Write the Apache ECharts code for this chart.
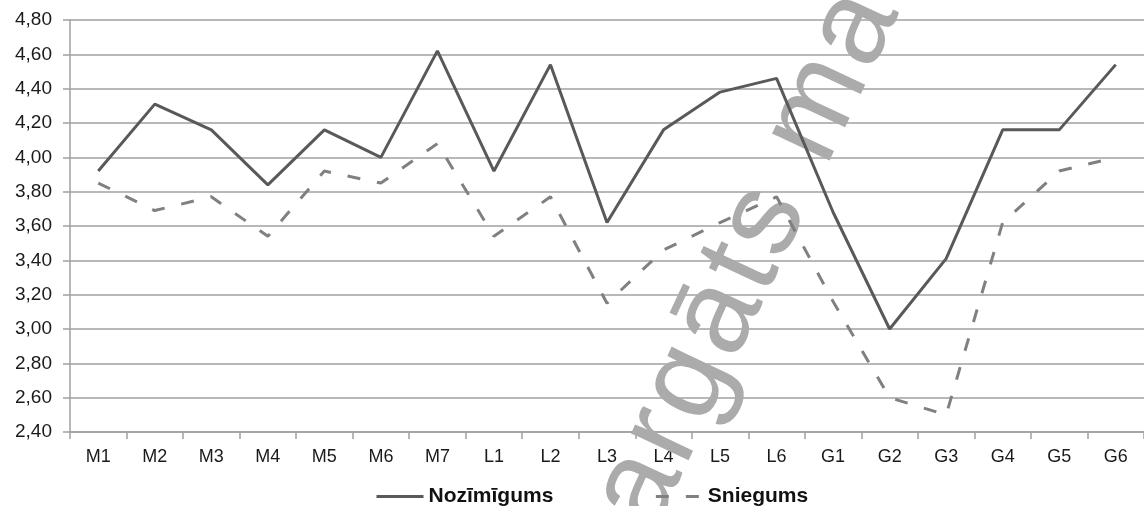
<!DOCTYPE html>
<html>
<head>
<meta charset="utf-8">
<script src="https://cdn.jsdelivr.net/npm/echarts@6/dist/echarts.min.js"></script>
<style>
  html, body { margin: 0; padding: 0; background: #ffffff; }
  #chart { width: 1144px; height: 506px; }
</style>
</head>
<body>
<div id="chart"></div>
<script>
// Category labels along the x axis
const categories = ['M1', 'M2', 'M3', 'M4', 'M5', 'M6', 'M7',
                    'L1', 'L2', 'L3', 'L4', 'L5', 'L6',
                    'G1', 'G2', 'G3', 'G4', 'G5', 'G6'];

// Series values
const nozimigums = [3.92, 4.31, 4.16, 3.84, 4.16, 4.00, 4.62,
                    3.92, 4.54, 3.62, 4.16, 4.38, 4.46,
                    3.68, 3.00, 3.41, 4.16, 4.16, 4.54];
const sniegums   = [3.85, 3.69, 3.77, 3.54, 3.92, 3.85, 4.08,
                    3.54, 3.77, 3.15, 3.46, 3.62, 3.77,
                    3.16, 2.60, 2.50, 3.62, 3.92, 4.00];

// Series names
const seriesNames = ['Nozīmīgums', 'Sniegums'];

// Value axis range
const yMin = 2.4, yMax = 4.8, yStep = 0.2;

// Watermark text
const watermark = 'argāts ma';

const chart = echarts.init(document.getElementById('chart'), null, { renderer: 'canvas' });

const gridColor = '#a0a0a0';
const labelFont = '"Liberation Sans", Arial, sans-serif';

// Watermark: letters laid out one by one along a slanted baseline (with a little tracking)
const wmSize = 120, wmTrack = 5.2, wmAngle = 64.8;
const measureCtx = document.createElement('canvas').getContext('2d');
measureCtx.font = wmSize + 'px "Liberation Sans", Arial, sans-serif';
const wmChars = Array.from(watermark);
const wmCenters = [];
let wmAcc = 0;
wmChars.forEach(ch => {
  const w = measureCtx.measureText(ch).width;
  wmCenters.push(wmAcc + w / 2);
  wmAcc += w + wmTrack;
});
const wmMid = (wmCenters[0] + wmCenters[wmCenters.length - 1]) / 2;
const wmLetters = wmChars.map((ch, i) => ({
  type: 'text',
  x: wmCenters[i] - wmMid,
  y: -8,
  z: 1,
  silent: true,
  style: {
    text: ch,
    fontFamily: labelFont,
    fontSize: wmSize,
    fill: '#ababab',
    align: 'center',
    verticalAlign: 'middle',
    textAlign: 'center',
    textVerticalAlign: 'middle'
  }
}));

chart.setOption({
  animation: false,
  backgroundColor: '#ffffff',
  grid: { left: 70, right: -12, top: 20, bottom: 74, containLabel: false },
  legend: {
    data: seriesNames,
    left: 370,
    top: 481,
    padding: 5,
    itemWidth: 47,
    itemHeight: 14,
    itemGap: 101,
    itemStyle: { opacity: 0 },
    lineStyle: { width: 3 },
    textStyle: { fontFamily: labelFont, fontSize: 21, fontWeight: 'bold', color: '#111' }
  },
  xAxis: {
    type: 'category',
    data: categories,
    boundaryGap: true,
    axisLine: { show: true, lineStyle: { color: gridColor, width: 1.5 } },
    axisTick: { show: true, length: 7, lineStyle: { color: gridColor, width: 1.5 } },
    axisLabel: { margin: 16, fontFamily: labelFont, fontSize: 18, color: '#1a1a1a', interval: 0 },
    splitLine: { show: false }
  },
  yAxis: {
    type: 'value',
    min: yMin,
    max: yMax,
    interval: yStep,
    axisLine: { show: true, lineStyle: { color: gridColor, width: 1.5 } },
    axisTick: { show: true, length: 7, lineStyle: { color: gridColor, width: 1.5 } },
    axisLabel: {
      margin: 18,
      fontFamily: labelFont,
      fontSize: 19,
      color: '#1a1a1a',
      formatter: v => v.toFixed(2).replace('.', ',')
    },
    splitLine: { show: true, lineStyle: { color: gridColor, width: 1.5 } }
  },
  graphic: {
    elements: [{
      type: 'group',
      x: 754,
      y: 262,
      rotation: wmAngle * Math.PI / 180,
      z: 1,
      silent: true,
      children: wmLetters
    }]
  },
  series: [
    {
      name: seriesNames[0],
      type: 'line',
      data: nozimigums,
      symbol: 'none',
      z: 3,
      lineStyle: { color: '#595959', width: 3, type: 'solid' },
      itemStyle: { color: '#595959' }
    },
    {
      name: seriesNames[1],
      type: 'line',
      data: sniegums,
      symbol: 'none',
      z: 3,
      lineStyle: { color: '#808080', width: 3, type: [13, 17] },
      itemStyle: { color: '#808080' }
    }
  ]
});
</script>
</body>
</html>
